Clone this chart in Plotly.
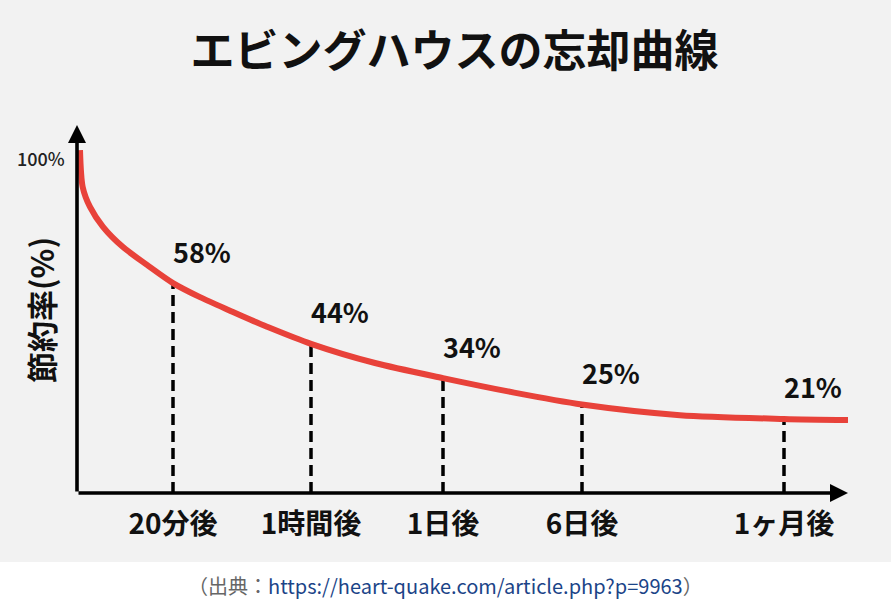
import plotly.graph_objects as go

# ---- data ----
# smooth forgetting curve (x: position along the time axis, y: retention %)
curve_x = [0.03, 0.057, 0.13, 0.26, 0.46, 0.70, 0.96, 1.23, 1.56, 1.73, 1.90,
           2.34, 2.98, 3.66, 4.35, 5.05, 6.03, 7.07, 7.71]
curve_y = [100.0, 89.2, 83.4, 77.6, 71.7, 66.5, 61.2, 57.1, 52.8, 50.6, 48.5,
           43.5, 37.9, 33.5, 29.4, 25.8, 22.7, 21.6, 21.3]

# marked moments
mark_x = [0.96, 2.34, 3.66, 5.05, 7.07]
mark_level = [61.2, 43.5, 33.5, 25.8, 21.6]      # height of curve at the mark
mark_values = [58, 44, 34, 25, 21]                # printed retention values
time_labels = ["20分後", "1時間後", "1日後", "6日後", "1ヶ月後"]

x_max = 7.71
y_max = 107.3

FONT = "Noto Sans CJK JP"

fig = go.Figure()

# dashed drop lines
dx, dy = [], []
for xv, yv in zip(mark_x, mark_level):
    dx += [xv, xv, None]
    dy += [0, yv, None]
fig.add_trace(go.Scatter(x=dx, y=dy, mode="lines",
                         line=dict(color="black", width=3.5, dash="11px,6px"),
                         hoverinfo="skip", showlegend=False))

# forgetting curve
fig.add_trace(go.Scatter(x=curve_x, y=curve_y, mode="lines",
                         line=dict(color="#e8423a", width=6, shape="spline", smoothing=0.8),
                         hoverinfo="skip", showlegend=False))

annotations = []
# value labels
for xv, yv, v in zip(mark_x, mark_level, mark_values):
    annotations.append(dict(x=xv, y=yv, xref="x", yref="y", text=f"{v}%",
                            showarrow=False, xanchor="center", yanchor="middle",
                            xshift=29, yshift=32,
                            font=dict(family=FONT, size=27, color="#111", weight="bold")))

# axis arrows
annotations.append(dict(x=0, y=y_max, ax=0, ay=0, xref="x", yref="y", axref="x", ayref="y",
                        showarrow=True, arrowhead=2, arrowsize=1.0, arrowwidth=3.6,
                        arrowcolor="black", text=""))
annotations.append(dict(x=x_max, y=0, ax=0, ay=0, xref="x", yref="y", axref="x", ayref="y",
                        showarrow=True, arrowhead=2, arrowsize=1.0, arrowwidth=3.6,
                        arrowcolor="black", text=""))

# 100% label
annotations.append(dict(x=0, y=100, xref="x", yref="y", text="100%", showarrow=False,
                        xanchor="right", yanchor="middle", xshift=-10, yshift=-8,
                        font=dict(family=FONT, size=18, color="#222", weight=500)))

# y-axis title
annotations.append(dict(x=-0.048, y=0.497, xref="paper", yref="paper", text="節約率(%)",
                        showarrow=False, textangle=-90, xanchor="center", yanchor="middle",
                        font=dict(family=FONT, size=31, color="#111", weight="bold")))

# source caption
annotations.append(dict(x=0.478, y=-0.25, xref="paper", yref="paper", showarrow=False,
                        xanchor="center", yanchor="middle",
                        text='<span style="color:#666">（出典：</span>'
                             '<span style="color:#1b4488">https://heart-quake.com/article.php?p=9963</span>'
                             '<span style="color:#666">）</span>',
                        font=dict(family=FONT, size=20)))

fig.update_layout(
    width=891, height=604,
    margin=dict(l=77, r=43, t=125, b=111),
    paper_bgcolor="white", plot_bgcolor="rgba(0,0,0,0)",
    title=dict(text="エビングハウスの忘却曲線", x=0.51, xanchor="center",
               y=1 - 52 / 604, yanchor="middle",
               font=dict(family=FONT, size=44, color="#111", weight="bold")),
    annotations=annotations,
    shapes=[dict(type="rect", xref="paper", yref="paper", x0=-0.2, x1=1.2,
                 y0=-0.1875, y1=1.5, fillcolor="#f2f2f2", line=dict(width=0), layer="below")],
    xaxis=dict(range=[0, x_max], showgrid=False, zeroline=False, showline=False,
               tickvals=mark_x, ticktext=time_labels, ticks="outside", ticklen=6,
               tickcolor="rgba(0,0,0,0)",
               tickfont=dict(family=FONT, size=28, color="#111", weight="bold")),
    yaxis=dict(range=[0, y_max], showgrid=False, zeroline=False, showline=False,
               showticklabels=False, ticks=""),
)

fig.write_html("out.html", config={"displayModeBar": False},
               post_script="document.body.style.margin='0';document.body.style.overflow='hidden';")
